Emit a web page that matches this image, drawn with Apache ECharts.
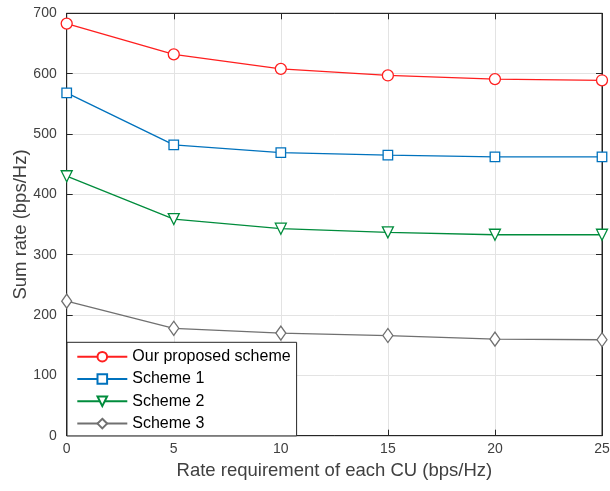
<!DOCTYPE html>
<html><head><meta charset="utf-8">
<script src="https://cdn.jsdelivr.net/npm/echarts@6/dist/echarts.min.js"></script>
<style>html,body{margin:0;padding:0;background:#fff}#c{width:610px;height:491px}</style>
</head><body><div id="c"></div>
<script>
const xValues = [0, 5, 10, 15, 20, 25];
const proposed = [683, 632, 608, 597, 591, 589];
const scheme1 = [568, 482, 469, 465, 462, 462];
const scheme2 = [430, 359, 343, 337, 333, 333];
const scheme3 = [223, 178, 170, 166, 160, 159];
const seriesNames = ['Our proposed scheme', 'Scheme 1', 'Scheme 2', 'Scheme 3'];
const xTicks = [0, 5, 10, 15, 20, 25];
const yTicks = [0, 100, 200, 300, 400, 500, 600, 700];

const chart = echarts.init(document.getElementById('c'));
const font = 'Liberation Sans, Arial, sans-serif';
const axisCol = '#262626';
const labCol = '#404040';
function pairs(arr){ return arr.map((v,i)=>[xValues[i], v]); }
function mk(name, data, color, symbol, size, rot){
  return {name, type:'line', data:pairs(data), symbol, symbolSize:size, symbolRotate:rot||0,
    showAllSymbol:true,
    lineStyle:{color, width:1.3}, itemStyle:{color:'#fff', borderColor:color, borderWidth:1.3},
    emphasis:{disabled:true}, animation:false, z:3};
}
const frameAxis = {show:true, onZero:false, lineStyle:{color:axisCol, width:1}};
const split = {show:true, showMinLine:false, showMaxLine:false, lineStyle:{color:'#e3e3e3', width:1}};
chart.setOption({
  animation:false,
  grid:{left:66.7, right:8, top:13.3, bottom:55.3, containLabel:false, outerBoundsMode:'none',
    show:true, borderColor:axisCol, borderWidth:1, backgroundColor:'transparent'},
  xAxis:[{type:'value', min:0, max:25, interval:5, position:'bottom',
    name:'Rate requirement of each CU (bps/Hz)', nameLocation:'middle', nameGap:26, nameMoveOverlap:false,
    nameTextStyle:{fontFamily:font, fontSize:18.5, color:labCol},
    axisLine:frameAxis,
    axisTick:{show:true, inside:true, length:6, lineStyle:{color:axisCol}},
    axisLabel:{fontFamily:font, fontSize:14, color:labCol, margin:6},
    splitLine:split},
   {type:'value', min:0, max:25, interval:5, position:'top',
    axisLine:frameAxis,
    axisTick:{show:true, inside:true, length:6, lineStyle:{color:axisCol}},
    axisLabel:{show:false}, splitLine:{show:false}}],
  yAxis:[{type:'value', min:0, max:700, interval:100, position:'left',
    name:'Sum rate (bps/Hz)', nameLocation:'middle', nameGap:36, nameMoveOverlap:false,
    nameTextStyle:{fontFamily:font, fontSize:18.5, color:labCol},
    axisLine:frameAxis,
    axisTick:{show:true, inside:true, length:6, lineStyle:{color:axisCol}},
    axisLabel:{fontFamily:font, fontSize:14, color:labCol, margin:10},
    splitLine:split},
   {type:'value', min:0, max:700, interval:100, position:'right',
    axisLine:frameAxis,
    axisTick:{show:true, inside:true, length:6, lineStyle:{color:axisCol}},
    axisLabel:{show:false}, splitLine:{show:false}}],
  legend:{orient:'vertical', left:67, top:342.3, z:20,
    backgroundColor:'#fff', borderColor:axisCol, borderWidth:1,
    padding:[6.4, 6, 4.3, 9.3], itemGap:6.3, itemWidth:50, itemHeight:12,
    textStyle:{fontFamily:font, fontSize:16, lineHeight:16, color:'#000'},
    data:seriesNames},
  series:[
    mk(seriesNames[0], proposed, '#ff1f1f', 'circle', 11),
    mk(seriesNames[1], scheme1, '#0072bd', 'rect', 9.5),
    mk(seriesNames[2], scheme2, '#008c3c', 'triangle', 11, 180),
    mk(seriesNames[3], scheme3, '#707070', 'diamond', [10,14])
  ]
});
</script></body></html>
